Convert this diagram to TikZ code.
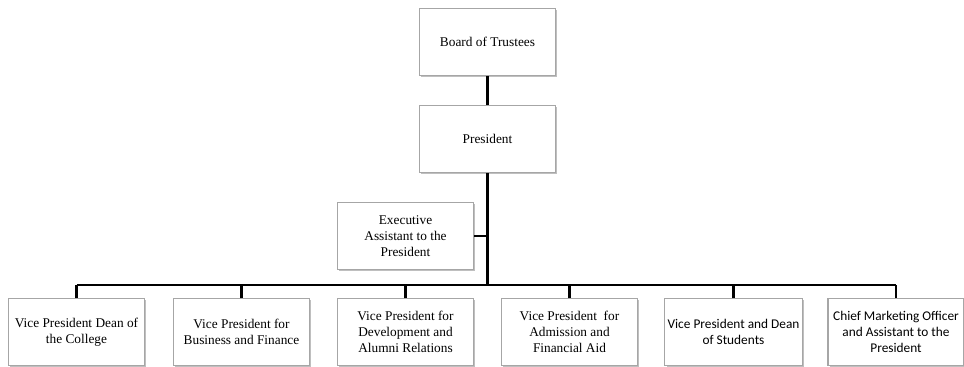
\documentclass[tikz,border=0pt]{standalone}
\usepackage{fontspec}
\setmainfont{Liberation Serif}
\newfontfamily\calibrifont{Carlito}
\usetikzlibrary{positioning, shadows}
\definecolor{boxedge}{HTML}{A6A6A6}
\definecolor{boxshadow}{HTML}{BFBFBF}

\tikzset{
  orgbox/.style={draw=boxedge, line width=0.8pt, fill=white, align=center,
    minimum width=102pt, minimum height=50pt, inner sep=2pt,
    drop shadow={shadow xshift=1.2pt, shadow yshift=-1.2pt, fill=boxshadow, opacity=1}},
  link/.style={line width=2.2pt, black}
}

\begin{document}
\begin{tikzpicture}[x=0.75pt, y=-0.75pt, font=\fontsize{10pt}{12pt}\selectfont]
        \useasboundingbox (0,0) rectangle (964,367);
        \node[orgbox] (board) at (487.5,42) {Board of Trustees};
        \node[orgbox] (pres) at (487.5,139) {President};
        \node[orgbox] (exec) at (405.5,236) {Executive\\Assistant to the\\President};
        \coordinate (bus) at (0,285);
        \node[orgbox] (vpdean) at (76.5,332) {Vice President Dean of\\the College};
        \node[orgbox] (vpbus) at (241.5,332) {Vice President for\\Business and Finance};
        \node[orgbox] (vpdev) at (405.5,332) {Vice President for\\Development and\\Alumni Relations};
        \node[orgbox] (vpadm) at (569.5,332) {Vice President\ \ for\\Admission and\\Financial Aid};
        \node[orgbox] (vpstu) at (733.5,332) {\calibrifont Vice President and Dean\\\calibrifont of Students};
        \node[orgbox] (cmo) at (896,332) {\calibrifont Chief Marketing Officer\\\calibrifont and Assistant to the\\\calibrifont President};
        % lines
        \draw[link] (board) -- (pres);
        \draw[link] (pres) -- (pres |- bus);
        \draw[link] (exec) -- (exec -| pres);
        \draw[link] (vpdean.north |- bus) -- (cmo.north |- bus);
        \foreach \n in {vpdean, vpbus, vpdev, vpadm, vpstu, cmo}
          \draw[link] (\n.north) -- (\n.north |- bus);
      \end{tikzpicture}
\end{document}
